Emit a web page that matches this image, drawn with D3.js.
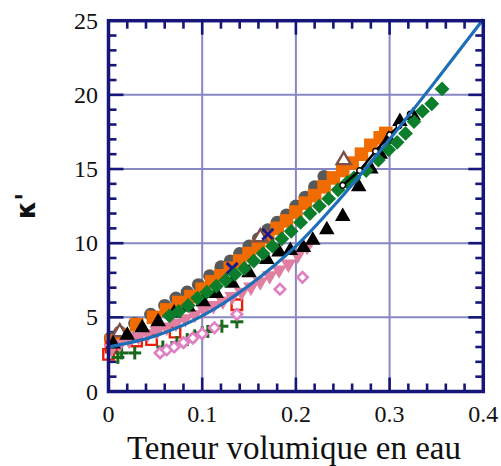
<!DOCTYPE html>
<html><head><meta charset="utf-8">
<script src="https://cdn.jsdelivr.net/npm/d3@7"></script>
<style>body{margin:0;background:#fff}svg{display:block}</style>
</head><body>
<svg id="c" width="501" height="466"></svg>
<script>
const xTicks = [0, 0.1, 0.2, 0.3, 0.4];
const yTicks = [0, 5, 10, 15, 20, 25];
const xLabel = "Teneur volumique en eau";
const yLabel = "κ'";

const grayCircles = [[0.002,3.6],[0.012,4.0],[0.028,4.6],[0.045,5.2],[0.06,5.8],[0.072,6.3],[0.084,6.7],[0.096,7.2],[0.108,7.8],[0.12,8.4],[0.13,8.8],[0.14,9.3],[0.15,9.8],[0.16,10.3],[0.17,10.9],[0.18,11.4],[0.19,11.9],[0.2,12.5],[0.21,13.1],[0.22,13.8],[0.23,14.5]];
const orangeSquares = [[0.003,3.4],[0.014,3.8],[0.03,4.5],[0.048,5.0],[0.062,5.5],[0.075,6.0],[0.088,6.4],[0.1,6.9],[0.11,7.4],[0.12,7.8],[0.13,8.3],[0.14,8.8],[0.15,9.3],[0.16,9.8],[0.17,10.4],[0.18,11.0],[0.19,11.5],[0.2,12.1],[0.21,12.7],[0.22,13.2],[0.23,13.8],[0.24,14.4],[0.25,14.9],[0.26,15.4],[0.27,16.0],[0.28,16.6],[0.29,17.1],[0.296,17.4]];
const greenDiamonds = [[0.065,5.1],[0.075,5.4],[0.085,5.8],[0.095,6.3],[0.105,6.7],[0.115,7.1],[0.125,7.5],[0.135,7.9],[0.145,8.3],[0.155,8.8],[0.165,9.3],[0.175,9.8],[0.185,10.3],[0.195,10.8],[0.205,11.4],[0.215,12.0],[0.225,12.5],[0.235,13.0],[0.245,13.6],[0.255,14.1],[0.262,14.4],[0.275,14.9],[0.288,15.6],[0.299,16.3],[0.308,16.8],[0.317,17.4],[0.326,18.2],[0.335,18.9],[0.345,19.4],[0.356,20.4]];
const blackTriangles = [[0.005,3.2],[0.02,3.8],[0.036,4.3],[0.053,4.7],[0.07,5.3],[0.085,5.7],[0.101,6.05],[0.115,6.6],[0.132,7.3],[0.15,8.0],[0.169,8.9],[0.182,9.4],[0.194,9.5],[0.208,9.7],[0.218,10.2],[0.233,10.9],[0.25,11.8],[0.267,13.8],[0.28,15.0],[0.29,16.0],[0.299,17.0],[0.311,18.2],[0.325,18.6]];
const blackOpen = [[0.25,13.9],[0.268,14.9],[0.285,16.2],[0.3,17.3],[0.31,17.9],[0.322,18.7]];
const pinkTriangles = [[0.003,2.9],[0.012,3.2],[0.022,3.45],[0.032,3.7],[0.042,3.9],[0.052,4.1],[0.062,4.35],[0.072,4.6],[0.082,4.9],[0.092,5.2],[0.102,5.5],[0.112,5.8],[0.122,6.1],[0.132,6.4],[0.142,6.7],[0.152,7.05],[0.162,7.4],[0.172,7.8],[0.182,8.2],[0.192,8.6],[0.202,9.2],[0.212,9.8]];
const pinkDiamonds = [[0.055,2.6],[0.062,2.8],[0.07,3.0],[0.08,3.3],[0.09,3.6],[0.1,3.9],[0.113,4.3],[0.137,5.2],[0.183,6.9],[0.207,7.7]];
const redSquares = [[0.0,2.5],[0.003,3.0],[0.03,3.4],[0.046,3.5],[0.071,4.0],[0.137,5.85]];
const greenPlus = [[0.01,2.3],[0.014,2.6],[0.028,2.6],[0.058,3.0],[0.073,3.3],[0.084,3.5],[0.092,3.75],[0.1,3.95],[0.106,4.05],[0.121,4.4],[0.137,4.7]];
const navyX = [[0.022,3.6],[0.132,8.3],[0.17,10.6]];
const brownTriangles = [[0.012,4.0],[0.162,10.4],[0.251,15.6]];
const fitX = [0, 0.05, 0.1, 0.15, 0.2, 0.25, 0.3, 0.35, 0.4];
const fitY = [3.0, 3.75, 5.1, 7.15, 9.8, 13.2, 17.0, 21.0, 25.1];

const svg = d3.select("#c");
const L = 108.5, R = 483.3, T = 20.7, B = 391.5;
const x = d3.scaleLinear().domain([0, 0.4]).range([L, R]);
const y = d3.scaleLinear().domain([0, 25]).range([B, T]);
const axisCol = "#16167a", gridCol = "#8787c4";

// grid
const g = svg.append("g");
g.selectAll(".vg").data(xTicks.slice(1, -1)).enter().append("line")
  .attr("x1", d => x(d)).attr("x2", d => x(d)).attr("y1", T).attr("y2", B)
  .attr("stroke", gridCol).attr("stroke-width", 2);
g.selectAll(".hg").data(yTicks.slice(1, -1)).enter().append("line")
  .attr("y1", d => y(d)).attr("y2", d => y(d)).attr("x1", L).attr("x2", R)
  .attr("stroke", gridCol).attr("stroke-width", 2);

// ticks (inward on 4 sides)
const xMinor = d3.range(0, 41).map(i => i / 100).filter((d, i) => i % 2 === 0 && i % 10 !== 0);
const yMinor = d3.range(0, 26).filter(d => d % 5 !== 0);
const tk = svg.append("g").attr("stroke", axisCol).attr("stroke-width", 2.6);
function ticksX(vals, len) {
  vals.forEach(v => {
    tk.append("line").attr("x1", x(v)).attr("x2", x(v)).attr("y1", B).attr("y2", B - len);
    tk.append("line").attr("x1", x(v)).attr("x2", x(v)).attr("y1", T).attr("y2", T + len);
  });
}
function ticksY(vals, len) {
  vals.forEach(v => {
    tk.append("line").attr("y1", y(v)).attr("y2", y(v)).attr("x1", L).attr("x2", L + len);
    tk.append("line").attr("y1", y(v)).attr("y2", y(v)).attr("x1", R).attr("x2", R - len);
  });
}
ticksX(xTicks, 14); ticksX(xMinor, 8);
ticksY(yTicks, 15); ticksY(yMinor, 8);

// marks
const plot = svg.append("g");
function sym(data, type, size, fill, stroke, sw, rot) {
  plot.append("g").selectAll("path").data(data).enter().append("path")
    .attr("d", d3.symbol().type(type).size(size))
    .attr("transform", d => `translate(${x(d[0])},${y(d[1])}) rotate(${rot || 0})`)
    .attr("fill", fill).attr("stroke", stroke || "none").attr("stroke-width", sw || 0);
}
function lines(data, half, col, sw, diag) {
  const gg = plot.append("g").attr("stroke", col).attr("stroke-width", sw);
  data.forEach(d => {
    const cx = x(d[0]), cy = y(d[1]);
    if (diag) {
      gg.append("line").attr("x1", cx - half).attr("x2", cx + half).attr("y1", cy - half).attr("y2", cy + half);
      gg.append("line").attr("x1", cx - half).attr("x2", cx + half).attr("y1", cy + half).attr("y2", cy - half);
    } else {
      gg.append("line").attr("x1", cx - half).attr("x2", cx + half).attr("y1", cy).attr("y2", cy);
      gg.append("line").attr("x1", cx).attr("x2", cx).attr("y1", cy - half).attr("y2", cy + half);
    }
  });
}
sym(grayCircles, d3.symbolCircle, 135, "#595959");
sym(orangeSquares, d3.symbolSquare, 185, "#f06c00");
sym(brownTriangles, d3.symbolTriangle, 85, "#fff", "#7a5048", 2.4);
lines(navyX, 5.5, "#1a1a8c", 3, true);
sym(redSquares, d3.symbolSquare, 110, "#fff", "#e8200a", 2.4);
lines(greenPlus, 6.5, "#186a1a", 3, false);
sym(pinkDiamonds, d3.symbolSquare, 55, "#fff", "#e07fc4", 2.6, 45);
sym(pinkTriangles, d3.symbolTriangle, 105, "#e07fa2", null, 0, 180);
sym(blackTriangles, d3.symbolTriangle, 105, "#000");
sym(greenDiamonds, d3.symbolSquare, 110, "#0b7d2b", null, 0, 45);
plot.append("path").datum(blackOpen)
  .attr("d", d3.line().x(d => x(d[0])).y(d => y(d[1])))
  .attr("fill", "none").attr("stroke", "#000").attr("stroke-width", 2.5);
sym(blackOpen, d3.symbolCircle, 25, "#fff", "#000", 1.5);
const fit = fitX.map((v, i) => [v, fitY[i]]);
plot.append("path").datum(fit)
  .attr("d", d3.line().curve(d3.curveMonotoneX).x(d => x(d[0])).y(d => y(d[1])))
  .attr("fill", "none").attr("stroke", "#1f6fb8").attr("stroke-width", 3.2);

// frame
svg.append("rect").attr("x", L).attr("y", T).attr("width", R - L).attr("height", B - T)
  .attr("fill", "none").attr("stroke", axisCol).attr("stroke-width", 3.5);

// labels
const font = "'Liberation Serif','Times New Roman',serif";
svg.append("g").selectAll("text").data(xTicks).enter().append("text")
  .attr("x", d => x(d)).attr("y", 422).attr("text-anchor", "middle")
  .attr("font-family", font).attr("font-size", 24).attr("fill", "#111").text(d => d3.format("")(d));
svg.append("g").selectAll("text").data(yTicks).enter().append("text")
  .attr("x", 98).attr("y", d => y(d) + 8).attr("text-anchor", "end")
  .attr("font-family", font).attr("font-size", 24).attr("fill", "#111").text(d => d);
svg.append("text").attr("x", 294).attr("y", 459).attr("text-anchor", "middle")
  .attr("font-family", font).attr("font-size", 33).attr("fill", "#111").text(xLabel);
svg.append("text").attr("transform", "translate(35,206) rotate(-90)").attr("text-anchor", "middle")
  .attr("font-family", "'DejaVu Sans',sans-serif").attr("font-weight", "bold").attr("font-size", 26).attr("fill", "#111").text(yLabel);
</script>
</body></html>
